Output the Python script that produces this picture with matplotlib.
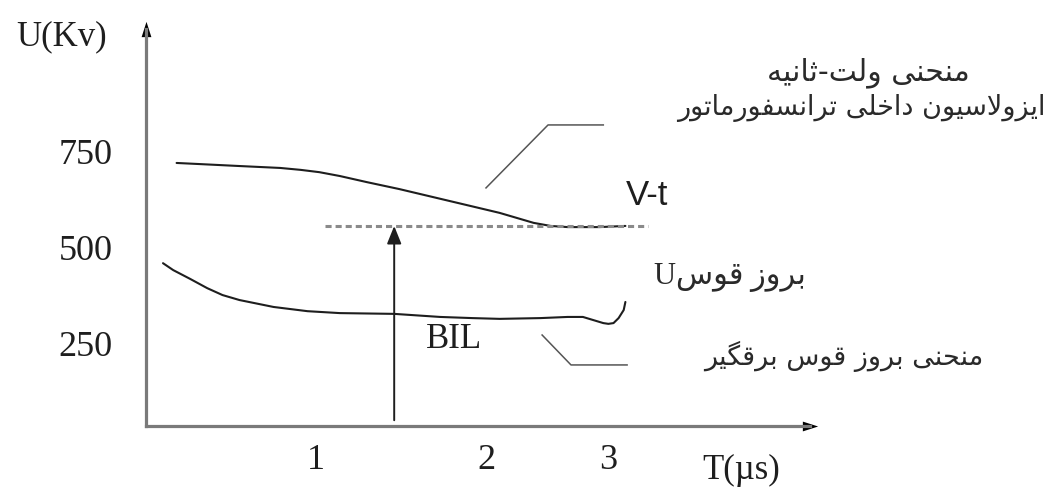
import matplotlib
matplotlib.use('Agg')
from matplotlib import pyplot as plt
from matplotlib.path import Path

# --- data (T in µs, U in kV) ---
vt_t = [0.18, 0.32, 0.55, 0.79, 0.91, 1.02, 1.14, 1.30, 1.49, 1.69,
        1.89, 2.08, 2.18, 2.28, 2.38, 2.48, 2.67, 2.82]
vt_u = [719, 716, 711, 706, 701, 695, 685, 669, 651, 630,
        609, 589, 576, 563, 555, 552, 552, 555]

arr_t = [0.10, 0.16, 0.26, 0.36, 0.45, 0.55, 0.75, 0.95, 1.14, 1.46, 1.73,
         1.92, 2.08, 2.32, 2.48, 2.57, 2.63, 2.69, 2.72, 2.75, 2.78, 2.81, 2.82]
arr_u = [458, 440, 417, 393, 375, 362, 344, 333, 328, 326, 318,
         315, 313, 315, 318, 318, 310, 302, 300, 302, 315, 336, 357]

bil_level = 555
bil_t = 1.46
bil_span = [1.05, 2.95]

u_ticks = [750, 500, 250]
u_labels = ['750', '500', '250']
t_ticks = [1.0, 2.0, 2.72]
t_labels = ['1', '2', '3']

leader_vt_t = [2.00, 2.365, 2.69]
leader_vt_u = [654, 818, 818]
leader_arr_t = [2.33, 2.50, 2.83]
leader_arr_u = [271, 193, 193]

# --- minimal Persian shaping (matplotlib does no Arabic joining) ---
FORMS = {
    'ا': ('\uFE8D', '\uFE8E', None, None),
    'ب': ('\uFE8F', '\uFE90', '\uFE91', '\uFE92'),
    'ت': ('\uFE95', '\uFE96', '\uFE97', '\uFE98'),
    'ث': ('\uFE99', '\uFE9A', '\uFE9B', '\uFE9C'),
    'ح': ('\uFEA1', '\uFEA2', '\uFEA3', '\uFEA4'),
    'خ': ('\uFEA5', '\uFEA6', '\uFEA7', '\uFEA8'),
    'د': ('\uFEA9', '\uFEAA', None, None),
    'ر': ('\uFEAD', '\uFEAE', None, None),
    'ز': ('\uFEAF', '\uFEB0', None, None),
    'س': ('\uFEB1', '\uFEB2', '\uFEB3', '\uFEB4'),
    'ف': ('\uFED1', '\uFED2', '\uFED3', '\uFED4'),
    'ق': ('\uFED5', '\uFED6', '\uFED7', '\uFED8'),
    'ل': ('\uFEDD', '\uFEDE', '\uFEDF', '\uFEE0'),
    'م': ('\uFEE1', '\uFEE2', '\uFEE3', '\uFEE4'),
    'ن': ('\uFEE5', '\uFEE6', '\uFEE7', '\uFEE8'),
    'ه': ('\uFEE9', '\uFEEA', '\uFEEB', '\uFEEC'),
    'و': ('\uFEED', '\uFEEE', None, None),
    'ی': ('\uFEEF', '\uFEF0', '\uFEF3', '\uFEF4'),
    'گ': ('\uFB92', '\uFB93', '\uFB94', '\uFB95'),
}
LAM_ALEF = ('\uFEFB', '\uFEFC')


def dual(c):
    return c in FORMS and FORMS[c][2] is not None


def shape_fa(text):
    out = []
    i = 0
    n = len(text)
    while i < n:
        c = text[i]
        if c not in FORMS:
            out.append(c)
            i += 1
            continue
        joined_prev = i > 0 and dual(text[i - 1])
        if c == 'ل' and i + 1 < n and text[i + 1] == 'ا':
            out.append(LAM_ALEF[1] if joined_prev else LAM_ALEF[0])
            i += 2
            continue
        joined_next = dual(c) and i + 1 < n and text[i + 1] in FORMS
        iso, fin, ini, med = FORMS[c]
        if joined_prev and joined_next:
            out.append(med)
        elif joined_prev:
            out.append(fin)
        elif joined_next:
            out.append(ini)
        else:
            out.append(iso)
        i += 1
    return ''.join(reversed(out))


SERIF = ['Liberation Serif', 'DejaVu Serif']
SANS = ['Liberation Sans', 'DejaVu Sans']
FA = ['DejaVu Sans']
AXIS_GRAY = '#7a7a7a'
INK = '#1e1e1e'
FA_INK = '#2a2a2a'

W, H = 1051, 488
fig = plt.figure(figsize=(W / 100, H / 100), dpi=100)
# axes box: left spine at x=146px, bottom at y=426px, arrow tips at 817px / 22px
ax = fig.add_axes([146 / W, (H - 426) / H, 664 / W, 397 / H])
ax.set_xlim(0, 664 / 170)
ax.set_ylim(34, 34 + 397 / 0.384)

for side in ['top', 'right']:
    ax.spines[side].set_visible(False)
for side in ['left', 'bottom']:
    ax.spines[side].set_color(AXIS_GRAY)
    ax.spines[side].set_linewidth(2.3)

# arrow heads on the axes
head_up = Path([(-0.32, -0.5), (0.32, -0.5), (0, 0.5), (-0.32, -0.5)],
               [Path.MOVETO, Path.LINETO, Path.LINETO, Path.CLOSEPOLY])
head_right = Path([(-0.5, -0.32), (-0.5, 0.32), (0.5, 0), (-0.5, -0.32)],
                  [Path.MOVETO, Path.LINETO, Path.LINETO, Path.CLOSEPOLY])
ax.plot(0, 1, marker=head_up, ms=11, color='black', mew=0,
        transform=ax.transAxes, clip_on=False)
ax.plot(1, 0, marker=head_right, ms=11, color='black', mew=0,
        transform=ax.transAxes, clip_on=False)

ax.set_yticks(u_ticks)
ax.set_yticklabels(u_labels, family=SERIF, fontsize=26, color=INK)
ax.set_xticks(t_ticks)
ax.set_xticklabels(t_labels, family=SERIF, fontsize=26, color=INK)
ax.tick_params(axis='y', length=0, pad=24)
ax.tick_params(axis='x', length=0, pad=13)

# curves
ax.plot(vt_t, vt_u, color=INK, lw=1.5, solid_capstyle='round',
        solid_joinstyle='round')
ax.plot(arr_t, arr_u, color=INK, lw=1.5, solid_capstyle='round',
        solid_joinstyle='round')
ax.plot(bil_span, [bil_level, bil_level], color='#8a8a8a', lw=2.2,
        dashes=(2.0, 1.3))
ax.annotate('', xy=(bil_t, bil_level), xytext=(bil_t, 49),
            arrowprops=dict(arrowstyle='-|>,head_length=0.72,head_width=0.29',
                            mutation_scale=15, color=INK, lw=1.4,
                            shrinkA=0, shrinkB=0))

# leader lines
ax.plot(leader_vt_t, leader_vt_u, color='#555555', lw=1.1)
ax.plot(leader_arr_t, leader_arr_u, color='#555555', lw=1.1)

# labels
fig.text(62 / W, 1 - 37 / H, 'U(Kv)', family=SERIF, fontsize=25, color=INK,
         ha='center', va='center')
fig.text(741 / W, 1 - 470 / H, 'T(\u00b5s)', family=SERIF, fontsize=25,
         color=INK, ha='center', va='center')
ax.text(2.947, 635, 'V-t', family=SANS, fontsize=25, color=INK,
        ha='center', va='center')
ax.text(1.81, 258, 'BIL', family=SERIF, fontsize=25, color=INK,
        ha='center', va='center')

ax.text(4.247, 954, shape_fa('منحنی ولت-ثانیه'), family=FA, fontsize=21.5,
        color=FA_INK, ha='center', va='center')
ax.text(5.29, 862, shape_fa('ایزولاسیون داخلی ترانسفورماتور'), family=FA,
        fontsize=19.5, color=FA_INK, ha='right', va='center')
ax.text(3.435, 420, 'U' + shape_fa('بروز قوس'),
        family=['Liberation Serif', 'DejaVu Sans'], fontsize=22,
        color=FA_INK, ha='center', va='center')
ax.text(4.106, 214, shape_fa('منحنی بروز قوس برقگیر'), family=FA,
        fontsize=19.5, color=FA_INK, ha='center', va='center')

fig.savefig('out.png', dpi=100)
